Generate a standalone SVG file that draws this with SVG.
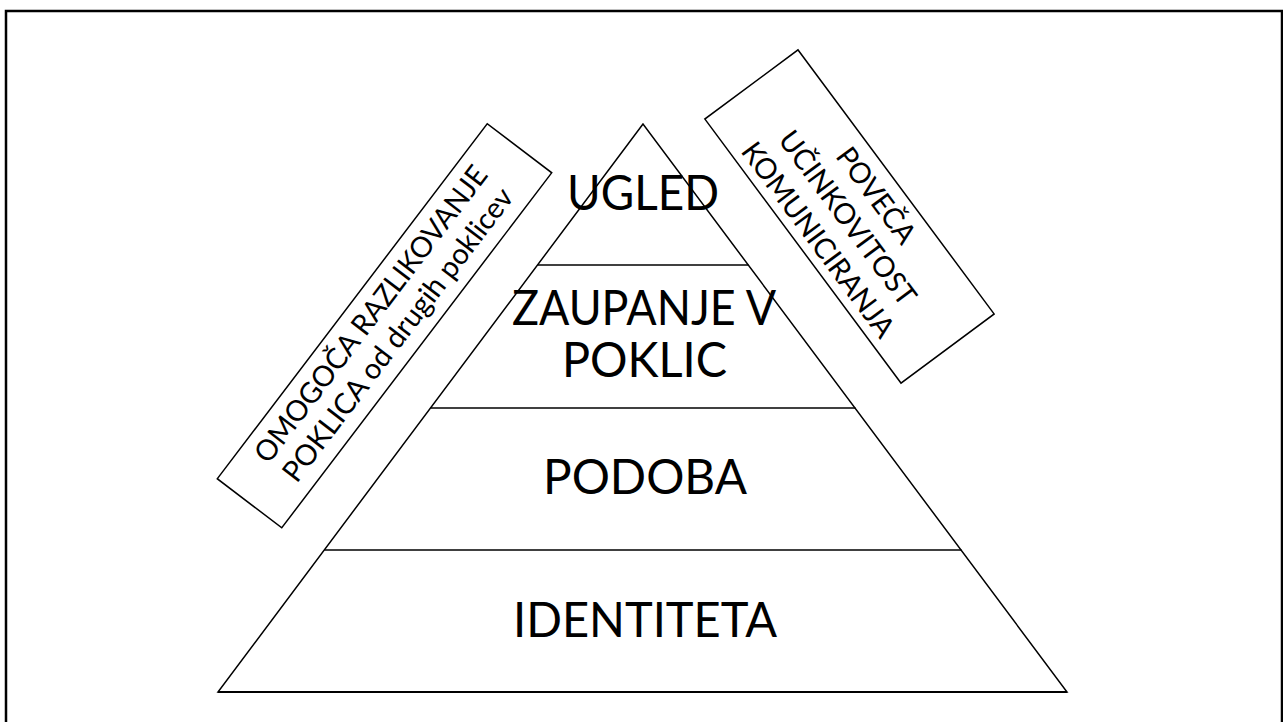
<svg xmlns="http://www.w3.org/2000/svg" width="1283" height="722" viewBox="0 0 1283 722">
<style>
.ln{stroke:#000;stroke-width:1.5;fill:none}
.box{stroke:#000;stroke-width:1.5;fill:none}
.big{font-family:Lato,"Liberation Sans",sans-serif;font-size:48px;fill:#000;text-anchor:middle}
.small{font-family:Lato,"Liberation Sans",sans-serif;font-size:29px;fill:#000;text-anchor:middle}
</style>
<rect x="0" y="0" width="1283" height="722" fill="#fff"/>
<rect x="6" y="11" width="1276" height="730" fill="none" stroke="#000" stroke-width="2.5"/>
<g id="pyramid">
<polygon class="ln" points="643,124 218,692 1067,692"/>
<line class="ln" x1="537.5" y1="265" x2="748.5" y2="265"/>
<line class="ln" x1="430.5" y1="408" x2="855.5" y2="408"/>
<line class="ln" x1="324.5" y1="550" x2="961.5" y2="550"/>
<line x1="218" y1="692" x2="1067" y2="692" stroke="#000" stroke-width="2"/>
</g>
<g id="level-ugled"><text class="big" x="643" y="210" textLength="152" lengthAdjust="spacingAndGlyphs">UGLED</text></g>
<g id="level-zaupanje">
<text class="big" x="644" y="325" textLength="264" lengthAdjust="spacingAndGlyphs">ZAUPANJE V</text>
<text class="big" x="644.5" y="377" textLength="165" lengthAdjust="spacingAndGlyphs">POKLIC</text>
</g>
<g id="level-podoba"><text class="big" x="645" y="494" textLength="204" lengthAdjust="spacingAndGlyphs">PODOBA</text></g>
<g id="level-identiteta"><text class="big" x="645" y="637" textLength="264" lengthAdjust="spacingAndGlyphs">IDENTITETA</text></g>
<g id="box-left" transform="translate(384.5,325.75) rotate(-52.75)">
<rect class="box" x="-223" y="-40.5" width="446" height="81"/>
<text class="small" x="1" y="-8" textLength="364" lengthAdjust="spacingAndGlyphs">OMOGOČA RAZLIKOVANJE</text>
<text class="small" x="1" y="26" textLength="360" lengthAdjust="spacingAndGlyphs">POKLICA od drugih poklicev</text>
</g>
<g id="box-right" transform="translate(849.5,216.5) rotate(53.4)">
<rect class="box" x="-164.5" y="-58" width="329" height="116"/>
<text class="small" x="-1" y="-24" textLength="112" lengthAdjust="spacingAndGlyphs">POVEČA</text>
<text class="small" x="0" y="12.5" textLength="209" lengthAdjust="spacingAndGlyphs">UČINKOVITOST</text>
<text class="small" x="0" y="49" textLength="235" lengthAdjust="spacingAndGlyphs">KOMUNICIRANJA</text>
</g>
<g id="connectors"></g>
</svg>
